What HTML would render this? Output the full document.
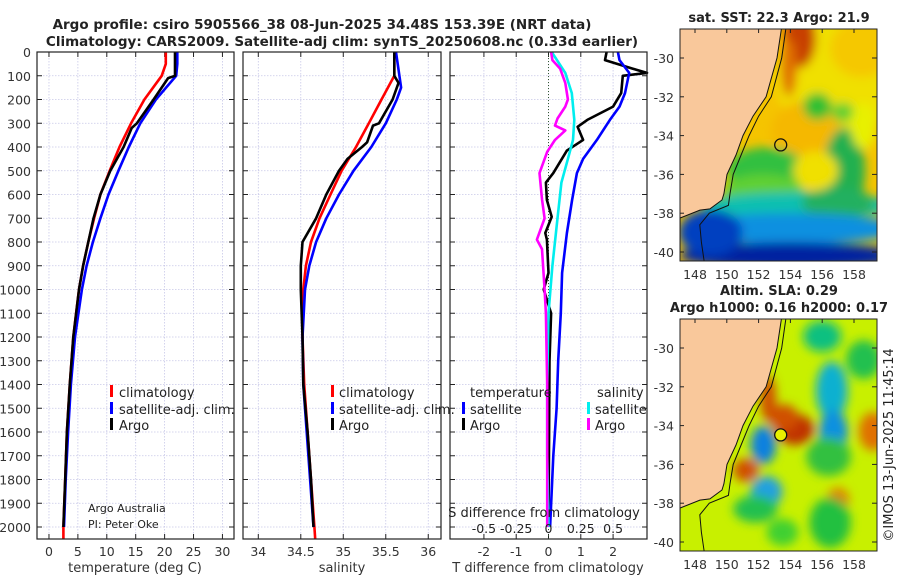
<!DOCTYPE html>
<html><head><meta charset="utf-8">
<style>
body{margin:0;background:#fff;}
svg{display:block;font-family:"DejaVu Sans","Liberation Sans",sans-serif;}
</style></head>
<body>
<svg id="fig" width="900" height="580" viewBox="0 0 900 580">
<defs>
<filter id="blur1" x="-20%" y="-20%" width="140%" height="140%"><feGaussianBlur stdDeviation="5"/></filter>
<clipPath id="clipM1"><rect x="680" y="29" width="197" height="232"/></clipPath>
<clipPath id="clipM2"><rect x="680" y="319" width="197" height="232"/></clipPath>
</defs>
<g id="root"></g>
</svg>
<script>
// ---- data ----
const depthClimT = [0,50,100,200,300,400,500,600,700,800,900,1000,1100,1200,1400,1600,1800,2000,2050];
const tempClim   = [20.2,20.2,19.5,16.5,14.2,12.2,10.5,8.9,7.8,6.8,5.9,5.2,4.7,4.2,3.6,3.1,2.8,2.5,2.5];
const depthSatT  = [0,50,100,200,300,400,500,600,700,800,900,1000,1200,1400,1600,1800,2000];
const tempSat    = [22.2,22.2,22.0,18.5,15.8,13.8,12.0,10.3,8.9,7.6,6.5,5.7,4.5,3.8,3.3,2.9,2.6];
const depthArgoT = [0,50,100,110,200,300,320,400,500,600,700,800,900,1000,1200,1400,1600,1800,2000];
const tempArgo   = [21.8,21.8,21.8,20.6,18.1,15.2,14.3,12.9,10.6,8.9,7.7,6.8,5.9,5.2,4.2,3.6,3.1,2.8,2.5];

const depthClimS = [0,100,200,300,400,500,600,700,800,900,1000,1100,1200,1400,1600,1800,2000,2050];
const salClim    = [35.6,35.6,35.45,35.3,35.15,34.98,34.85,34.72,34.62,34.56,34.53,34.52,34.52,34.54,34.58,34.62,34.66,34.67];
const depthSatS  = [0,50,150,200,300,400,500,600,700,800,900,1000,1200,1400,1600,1800,2000];
const salSat     = [35.62,35.64,35.68,35.63,35.5,35.33,35.12,34.95,34.8,34.68,34.6,34.55,34.52,34.53,34.57,34.61,34.65];
const depthArgoS = [0,100,130,200,300,310,380,400,450,500,600,700,800,900,1000,1200,1400,1600,1800,2000];
const salArgo    = [35.6,35.6,35.65,35.58,35.42,35.35,35.28,35.22,35.05,34.95,34.8,34.68,34.52,34.5,34.5,34.52,34.53,34.58,34.62,34.65];

const depthDT    = [0,34,70,88,100,173,230,286,315,370,415,510,550,623,694,762,790,930,1000,1100,1300,1600,2000];
const dTArgo     = [1.8,1.75,2.6,3.05,2.3,2.25,2.0,1.2,0.9,1.07,0.57,0.15,-0.08,-0.05,0.1,-0.1,-0.05,0,-0.15,0.08,0.03,0.02,0.0];
const depthDTs   = [0,34,88,173,230,286,370,450,510,623,762,930,1100,1300,1500,1700,2000];
const dTSat      = [2.15,2.2,2.5,2.37,2.2,1.9,1.5,1.07,0.88,0.73,0.57,0.42,0.38,0.3,0.25,0.15,0.05];
const depthDSs   = [0,88,173,286,370,450,550,700,900,1100,1400,1700,2000];
const dSSat      = [0.025,0.13,0.18,0.2,0.19,0.15,0.1,0.07,0.03,0.0,-0.01,-0.01,0.0];
const depthDSa   = [0,34,70,130,200,230,280,310,330,370,420,510,620,700,790,830,1000,1100,1400,1700,2000];
const dSArgo     = [0.02,0.03,0.09,0.13,0.15,0.13,0.07,0.05,0.13,0.05,-0.01,-0.07,-0.05,-0.03,-0.09,-0.05,-0.03,-0.02,-0.01,-0.01,-0.01];

const depthTicks = [0,100,200,300,400,500,600,700,800,900,1000,1100,1200,1300,1400,1500,1600,1700,1800,1900,2000];
const tTicks = [0,5,10,15,20,25,30];
const sTicks = [34,34.5,35,35.5,36];
const dTTicks = [-2,-1,0,1,2];
const dSTickLabels = ["-0.5","-0.25","0","0.25","0.5"];
const dSTickVals = [-0.5,-0.25,0,0.25,0.5];
const latTicks = [-30,-32,-34,-36,-38,-40];
const lonTicks = [148,150,152,154,156,158];

// ---- helpers ----
const NS="http://www.w3.org/2000/svg";
const root=document.getElementById('root');
function mk(tag,attrs,parent,text){const e=document.createElementNS(NS,tag);for(const k in attrs)e.setAttribute(k,attrs[k]);if(text!==undefined)e.textContent=text;(parent||root).appendChild(e);return e;}
const Y0=52, PXD=0.2375;
const yD=d=>Y0+d*PXD;
const panels=[
 {x0:37,x1:234,min:-2.07,max:32.0},
 {x0:243,x1:441,min:33.82,max:36.15},
 {x0:450,x1:647,min:-3.05,max:3.05}
];
function sx(p,v){const P=panels[p];return P.x0+(v-P.min)/(P.max-P.min)*(P.x1-P.x0);}
const sxS=v=>sx(2,v*4);

function panel(p,ticks,labels,name){
 const P=panels[p];
 const g=mk('g',{});
 
 
 depthTicks.forEach(d=>{mk('line',{x1:P.x0,x2:P.x1,y1:yD(d),y2:yD(d),stroke:'#c8c8e8','stroke-width':0.8,'stroke-dasharray':'1.5,1.5'},g);});
 ticks.forEach(t=>{const x=sx(p,t);mk('line',{x1:x,x2:x,y1:Y0,y2:539,stroke:'#c8c8e8','stroke-width':0.8,'stroke-dasharray':'1.5,1.5'},g);
   mk('line',{x1:x,x2:x,y1:539,y2:534,stroke:'#222'},g);mk('line',{x1:x,x2:x,y1:Y0,y2:Y0+5,stroke:'#222'},g);});
 depthTicks.forEach(d=>{mk('line',{x1:P.x0,x2:P.x0+5,y1:yD(d),y2:yD(d),stroke:'#222'},g);mk('line',{x1:P.x1,x2:P.x1-5,y1:yD(d),y2:yD(d),stroke:'#222'},g);});
 ticks.forEach((t,i)=>{const lab=mk('text',{x:sx(p,t),y:556,'font-size':12.5,'text-anchor':'middle',fill:'#333'},g,labels[i]);
   
   });
 return g;
}
function line(p,vals,depths,color,name,fn){
 const pts=vals.map((v,i)=>(fn?fn(v):sx(p,v)).toFixed(1)+','+yD(depths[i]).toFixed(1)).join(' ');
 const e=mk('polyline',{points:pts,fill:'none',stroke:color,'stroke-width':2.6,'stroke-linejoin':'round'});
 
 
 return e;
}
function frame(p){const P=panels[p];mk('rect',{x:P.x0,y:Y0,width:P.x1-P.x0,height:539-Y0,fill:'none',stroke:'#222','stroke-width':1.2});}
function txt(x,y,s,size,attrs,name){const a=Object.assign({x:x,y:y,'font-size':size,fill:'#222'},attrs||{});const e=mk('text',a,null,s);
 
 
 return e;}
function legBar(x,y,color,name){const e=mk('rect',{x:x,y:y-12,width:3,height:12,fill:color});
 
 }

// titles
txt(322,29,'Argo profile: csiro 5905566_38 08-Jun-2025 34.48S 153.39E (NRT data)',13.5,{'font-weight':'bold','text-anchor':'middle'},'title-line-1');
txt(342,46,'Climatology: CARS2009. Satellite-adj clim: synTS_20250608.nc (0.33d earlier)',13.5,{'font-weight':'bold','text-anchor':'middle'},'title-line-2');

depthTicks.forEach(d=>{txt(31,yD(d)+5,String(d),12.5,{'text-anchor':'end',fill:'#333'},'y-tick-label');});

// panel 1
panel(0,tTicks,tTicks.map(String),'temperature-panel');
line(0,tempClim,depthClimT,'#f00','temp-climatology-line');
line(0,tempSat,depthSatT,'#00f','temp-satellite-line');
line(0,tempArgo,depthArgoT,'#000','temp-argo-line');
frame(0);
txt(135,572,'temperature (deg C)',13,{'text-anchor':'middle',fill:'#333'},'x-axis-title-temperature');
legBar(110,397,'#f00','legend-climatology-marker');txt(119,397,'climatology',13,{},'legend-climatology');
legBar(110,414,'#00f','legend-satellite-marker');txt(119,414,'satellite-adj. clim.',13,{},'legend-satellite');
legBar(110,430,'#000','legend-argo-marker');txt(119,430,'Argo',13,{},'legend-argo');
txt(88,512,'Argo Australia',11,{},'credit-argo-australia');
txt(88,528,'PI: Peter Oke',11,{},'credit-pi');

// panel 2
panel(1,sTicks,['34','34.5','35','35.5','36'],'salinity-panel');
line(1,salClim,depthClimS,'#f00','sal-climatology-line');
line(1,salSat,depthSatS,'#00f','sal-satellite-line');
line(1,salArgo,depthArgoS,'#000','sal-argo-line');
frame(1);
txt(342,572,'salinity',13,{'text-anchor':'middle',fill:'#333'},'x-axis-title-salinity');
legBar(331,397,'#f00','legend2-climatology-marker');txt(339,397,'climatology',13,{},'legend2-climatology');
legBar(331,414,'#00f','legend2-satellite-marker');txt(339,414,'satellite-adj. clim.',13,{},'legend2-satellite');
legBar(331,430,'#000','legend2-argo-marker');txt(339,430,'Argo',13,{},'legend2-argo');

// panel 3
panel(2,dTTicks,dTTicks.map(String),'difference-panel');
mk('line',{x1:sx(2,0),x2:sx(2,0),y1:Y0,y2:539,stroke:'#335533','stroke-width':1,'stroke-dasharray':'1,2'});
line(2,dTArgo,depthDT,'#000','dT-argo-line');
line(2,dTSat,depthDTs,'#00f','dT-satellite-line');
line(2,dSSat,depthDSs,'#0ee','dS-satellite-line',sxS);
line(2,dSArgo,depthDSa,'#f0f','dS-argo-line',sxS);
frame(2);
txt(548,572,'T difference from climatology',13,{'text-anchor':'middle',fill:'#333'},'x-axis-title-T-diff');
txt(544,517,'S difference from climatology',13,{'text-anchor':'middle'},'S-diff-axis-title');
dSTickVals.forEach((v,i)=>{txt(sxS(v),533,dSTickLabels[i],12.5,{'text-anchor':'middle'},'S-diff-tick-label');});
txt(470,397,'temperature',13,{},'legend3-temperature-header');
txt(597,397,'salinity',13,{},'legend3-salinity-header');
legBar(462,414,'#00f','legend3-T-satellite-marker');txt(470,414,'satellite',13,{},'legend3-T-satellite');
legBar(462,430,'#000','legend3-T-argo-marker');txt(470,430,'Argo',13,{},'legend3-T-argo');
legBar(587,414,'#0ee','legend3-S-satellite-marker');txt(595,414,'satellite',13,{},'legend3-S-satellite');
legBar(587,430,'#f0f','legend3-S-argo-marker');txt(595,430,'Argo',13,{},'legend3-S-argo');

// ---- maps ----
const MX0=680, MY0=29, LONPX=15.9, LATPX=19.4;
const mlx=lon=>695+(lon-148)*LONPX;
const mly=(lat,off)=>58+off+(-30-lat)*LATPX;
const coast=[[153.47,-28.3],[153.16,-30],[152.47,-32],[151.65,-33],[151.02,-34],[150.58,-35],[150.01,-36],[149.82,-37],[149.7,-37.32],[148.94,-37.78],[148.31,-37.84],[147.06,-38.25]];
const shelf=[[153.75,-28.3],[153.45,-30],[152.8,-32],[152.0,-33],[151.4,-34],[150.9,-35],[150.4,-36],[150.2,-37],[150.1,-37.6],[148.9,-38.0],[148.3,-38.6],[148.4,-39.5],[148.6,-40.6]];
function coastPts(off){return coast.map(c=>mlx(c[0]).toFixed(1)+','+mly(c[1],off).toFixed(1)).join(' ');}
function mapFrame(off,name,blobs,base){
 const g=mk('g',{'clip-path':off?'url(#clipM2)':'url(#clipM1)'});
 
 
 mk('rect',{x:MX0,y:MY0+off,width:197,height:232,fill:base},g);
 const bg=mk('g',{filter:'url(#blur1)'},g);
 blobs.forEach(b=>mk('ellipse',{cx:mlx(b[0]),cy:mly(b[1],off),rx:b[2]*LONPX,ry:b[3]*LATPX,fill:b[4]},bg));
 const pts=coastPts(off)+' '+MX0+','+(MY0+off+232)+' '+MX0+','+(MY0+off-5);
 mk('polygon',{points:pts,fill:'#f9c89b',stroke:'#111','stroke-width':1},g);
 mk('polyline',{points:shelf.map(c=>mlx(c[0]).toFixed(1)+','+mly(c[1],off).toFixed(1)).join(' '),fill:'none',stroke:'#111','stroke-width':1},g);
 mk('circle',{cx:mlx(153.39),cy:mly(-34.48,off),r:6,fill:off?'#e8f000':'none',stroke:'#111','stroke-width':1.3},g);
 mk('rect',{x:MX0,y:MY0+off,width:197,height:232,fill:'none',stroke:'#222','stroke-width':1});
 latTicks.forEach(l=>{const y=mly(l,off);txt(674,y+5,String(l),12.5,{'text-anchor':'end',fill:'#333'},'lat-tick-label');
  mk('line',{x1:877,x2:872,y1:y,y2:y,stroke:'#222'});mk('line',{x1:680,x2:684,y1:y,y2:y,stroke:'#222'});});
 lonTicks.forEach(l=>{const x=mlx(l);txt(x,MY0+off+250,String(l),12.5,{'text-anchor':'middle',fill:'#333'},'lon-tick-label');
  mk('line',{x1:x,x2:x,y1:MY0+off,y2:MY0+off+4,stroke:'#222'});});
}
const sstBlobs=[
 [157,-31,4,3,'#f0e000'],[158.5,-29.5,2,1.5,'#f5c800'],[155,-33.8,2.2,1.6,'#f5b800'],[154.6,-29,1,1.5,'#c84000'],[153.9,-30.5,0.5,1.5,'#e07000'],
 [155.7,-32.5,0.9,0.7,'#30c030'],[157.3,-32.8,0.7,0.5,'#60d030'],[152.5,-35.8,2.5,1.2,'#30c040'],[152.3,-36.8,2.5,0.8,'#60d030'],[157.4,-35.8,1.3,2.2,'#20b050'],[158.6,-33.5,0.8,1.2,'#e8f000'],
 [154.5,-37.6,6,0.7,'#10c0b0'],[157,-37.5,2.3,0.8,'#20b060'],[154,-38.8,7,0.8,'#1090e0'],[154,-40.2,7,0.7,'#0020a0'],[149,-39,2,1.2,'#0040c0'],[155.6,-35.8,1.4,1,'#f0e000']
];
const slaBlobs=[
 [156,-29.4,1.2,0.8,'#10c080'],[158.6,-30.6,1.1,1,'#20c050'],[156.6,-32.2,1,1.5,'#10b0d0'],[156.7,-34.3,0.9,1.1,'#1090e0'],[156.4,-35.6,1.4,1,'#30c040'],
 [154.3,-34.2,1.2,0.8,'#c03000'],[153.6,-33.6,0.9,0.7,'#d05000'],[151.2,-36.3,0.8,0.6,'#d05000'],[159.2,-34.3,0.9,1,'#e07000'],[157,-37.8,0.7,0.6,'#e08000'],
 [152.3,-35,0.8,1,'#1080e0'],[152.5,-37.4,1,0.8,'#20a0e0'],[151.8,-38.3,1.4,0.7,'#20c050'],[156.5,-39,1.3,1.3,'#20c040'],[153.5,-39.5,1,0.7,'#40d030'],[152.6,-32.6,0.5,1.2,'#d05000']
];
mapFrame(0,'sst-map',sstBlobs,'#f5c400');
mapFrame(290,'sla-map',slaBlobs,'#c8f000');
txt(779,22,'sat. SST: 22.3 Argo: 21.9',13,{'font-weight':'bold','text-anchor':'middle'},'sst-map-title');
txt(779,295,'Altim. SLA: 0.29',13,{'font-weight':'bold','text-anchor':'middle'},'sla-map-title-1');
txt(779,312,'Argo h1000: 0.16 h2000: 0.17',13,{'font-weight':'bold','text-anchor':'middle'},'sla-map-title-2');
txt(0,0,'©IMOS 13-Jun-2025 11:45:14',13,{transform:'translate(893,445) rotate(-90)','text-anchor':'middle'},'imos-timestamp');
</script>
</body></html>
